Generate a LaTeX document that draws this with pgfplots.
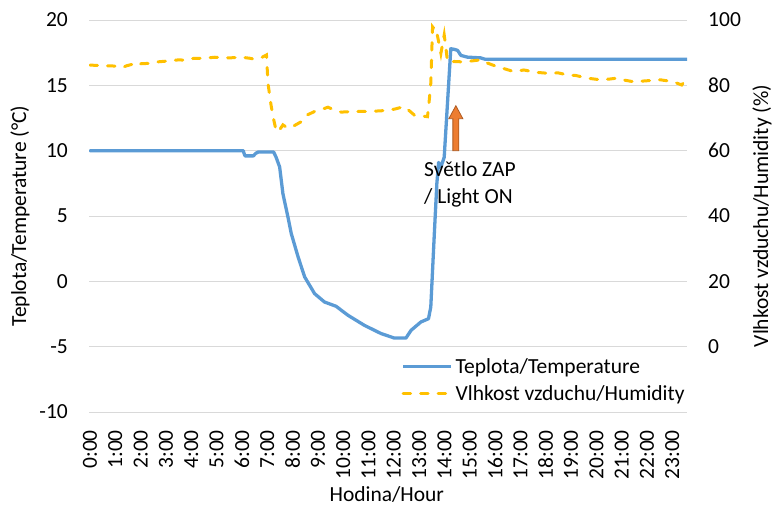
\documentclass[border=0pt]{standalone}
\usepackage{pgfplots}
\pgfplotsset{compat=1.18}
\usepackage{fontspec}
\setmainfont{Carlito}
\definecolor{tblue}{HTML}{5B9BD5}
\definecolor{hyel}{HTML}{FFC000}
\definecolor{grd}{HTML}{D9D9D9}
\definecolor{arrf}{HTML}{ED7D31}
\definecolor{arrd}{HTML}{AE5A21}
\newcommand{\ff}{\fontsize{21.5}{26}\selectfont}
\begin{document}
\begin{tikzpicture}[font=\ff]
\path[use as bounding box] (0,0) rectangle (772pt,507pt);
\begin{axis}[
 at={(89pt,95pt)}, anchor=south west,
 scale only axis, width=598pt, height=392pt,
 xmin=-0.04, xmax=23.58, ymin=-10, ymax=20,
 ytick={-10,-5,...,20},
 xtick={0,...,23},
 xticklabels={0:00,1:00,2:00,3:00,4:00,5:00,6:00,7:00,8:00,9:00,10:00,11:00,12:00,13:00,14:00,15:00,16:00,17:00,18:00,19:00,20:00,21:00,22:00,23:00},
 x tick label style={yshift=-18pt, rotate=90, anchor=east, inner sep=0pt, font=\ff},
 y tick label style={xshift=-21pt, anchor=east, inner sep=0pt, font=\ff},
 axis line style={draw=none},
 major tick length=0pt,
 ymajorgrids, grid style={grd, line width=1pt},
 /pgf/number format/assume math mode=true,
 ylabel={Teplota/Temperature (°C)},
 ylabel style={at={(axis description cs:-0.1154,0.5)}, anchor=center, font=\ff},
 xlabel={Hodina/Hour},
 xlabel style={at={(axis description cs:0.498,-0.2117)}, anchor=center, font=\ff},
]
\addplot[tblue, line width=3.3pt, line join=round, line cap=round] coordinates {
(0,10) (6.05,10) (6.12,9.6) (6.45,9.6) (6.55,9.8) (6.65,9.9) (7.25,9.9) (7.35,9.5)
(7.49,8.75) (7.62,6.7) (7.82,4.9) (7.95,3.65) (8.22,1.86) (8.48,0.33) (8.87,-0.94)
(9.26,-1.58) (9.72,-1.91) (10.19,-2.6) (10.84,-3.37) (11.5,-4.0) (12.02,-4.34)
(12.48,-4.34) (12.68,-3.75) (13.07,-3.11) (13.37,-2.86) (13.46,-1.96) (13.6,3.65)
(13.7,7.5) (13.77,9.1) (13.86,8.75) (13.99,9.5) (14.25,17.8) (14.4,17.75) (14.52,17.67)
(14.65,17.29) (14.9,17.16) (15.43,17.1) (15.6,17.0) (23.58,17.0)
};
\draw[arrd, fill=arrf, line width=0.8pt] (axis cs:14.332,10) -- (axis cs:14.332,12.45) -- (axis cs:14.174,12.45) -- (axis cs:14.45,13.44) -- (axis cs:14.726,12.45) -- (axis cs:14.568,12.45) -- (axis cs:14.568,10) -- cycle;
\node[anchor=north west, align=left, inner sep=0pt, font=\ff] at (axis cs:13.19,9.2) {Světlo ZAP\\[1pt]/ Light ON};
\end{axis}
\begin{axis}[
 at={(89pt,95pt)}, anchor=south west,
 scale only axis, width=598pt, height=392pt,
 xmin=-0.04, xmax=23.58, ymin=-20, ymax=100,
 ytick={0,20,...,100},
 axis y line*=right,
 axis x line=none,
 axis line style={draw=none},
 major tick length=0pt,
 y tick label style={xshift=21pt, anchor=west, inner sep=0pt, font=\ff},
 /pgf/number format/assume math mode=true,
 ylabel={Vlhkost vzduchu/Humidity (\%)},
 ylabel style={at={(axis description cs:1.1254,0.5)}, anchor=center, rotate=0, font=\ff},
 legend style={at={(axis description cs:0.522,0.143)}, anchor=north west, draw=none, fill=none,
   font=\ff, row sep=7pt, inner sep=0pt, cells={anchor=west}, nodes={inner xsep=3pt}},
 legend image code/.code={\draw[#1] (0pt,0pt) -- (48pt,0pt);},
]
\addlegendimage{tblue, line width=3.3pt}
\addlegendentry{Teplota/Temperature}
\addplot[hyel, line width=3pt, line cap=round, dash pattern=on 7.5pt off 10pt] coordinates {
(0.0,86.2) (0.5,86) (1.0,85.9) (1.26,85.4) (1.45,86) (1.65,86.4) (1.8,85.8) (2.0,86.6)
(2.5,86.8) (2.7,87.2) (3.0,87.4) (3.5,87.8) (3.75,87.7) (4.0,88.2) (4.5,88.3) (4.93,88.6)
(5.5,88.4) (5.98,88.6) (6.3,88.3) (6.5,88.0) (6.8,88.6) (6.97,89.3) (7.03,80.6) (7.15,74)
(7.23,70.4) (7.36,65.8) (7.5,66.5) (7.62,67.9) (7.75,67.2) (7.89,66.9) (8.1,67.8) (8.35,68.9)
(8.6,71) (8.87,72.0) (9.1,72.5) (9.4,73.3) (9.6,72.6) (9.92,71.8) (10.4,72.0) (10.97,72.0)
(11.5,72.2) (12.02,72.7) (12.41,73.5) (12.6,72.3) (12.81,70.9) (13.33,70.4) (13.4,75.5)
(13.46,80.6) (13.53,97.9) (13.6,97.2) (13.66,97.5) (13.78,93) (13.86,89.8) (13.99,95.4)
(14.05,92) (14.12,87.2) (14.4,87.3) (14.65,87.2) (15.0,87.4) (15.43,87.8) (15.7,86.8)
(16.09,85.7) (16.4,85.0) (16.74,84.2) (17.14,84.7) (17.6,84.0) (18.06,83.7) (18.5,83.8)
(18.85,83.2) (19.2,83.0) (19.63,82.2) (20.16,81.7) (20.5,81.9) (20.81,82.2) (21.1,81.6)
(21.47,81.1) (22.0,81.4) (22.52,81.7) (23.04,81.1) (23.37,80.1) (23.5,81.4)
};
\addlegendentry{Vlhkost vzduchu/Humidity}
\end{axis}
\end{tikzpicture}
\end{document}
